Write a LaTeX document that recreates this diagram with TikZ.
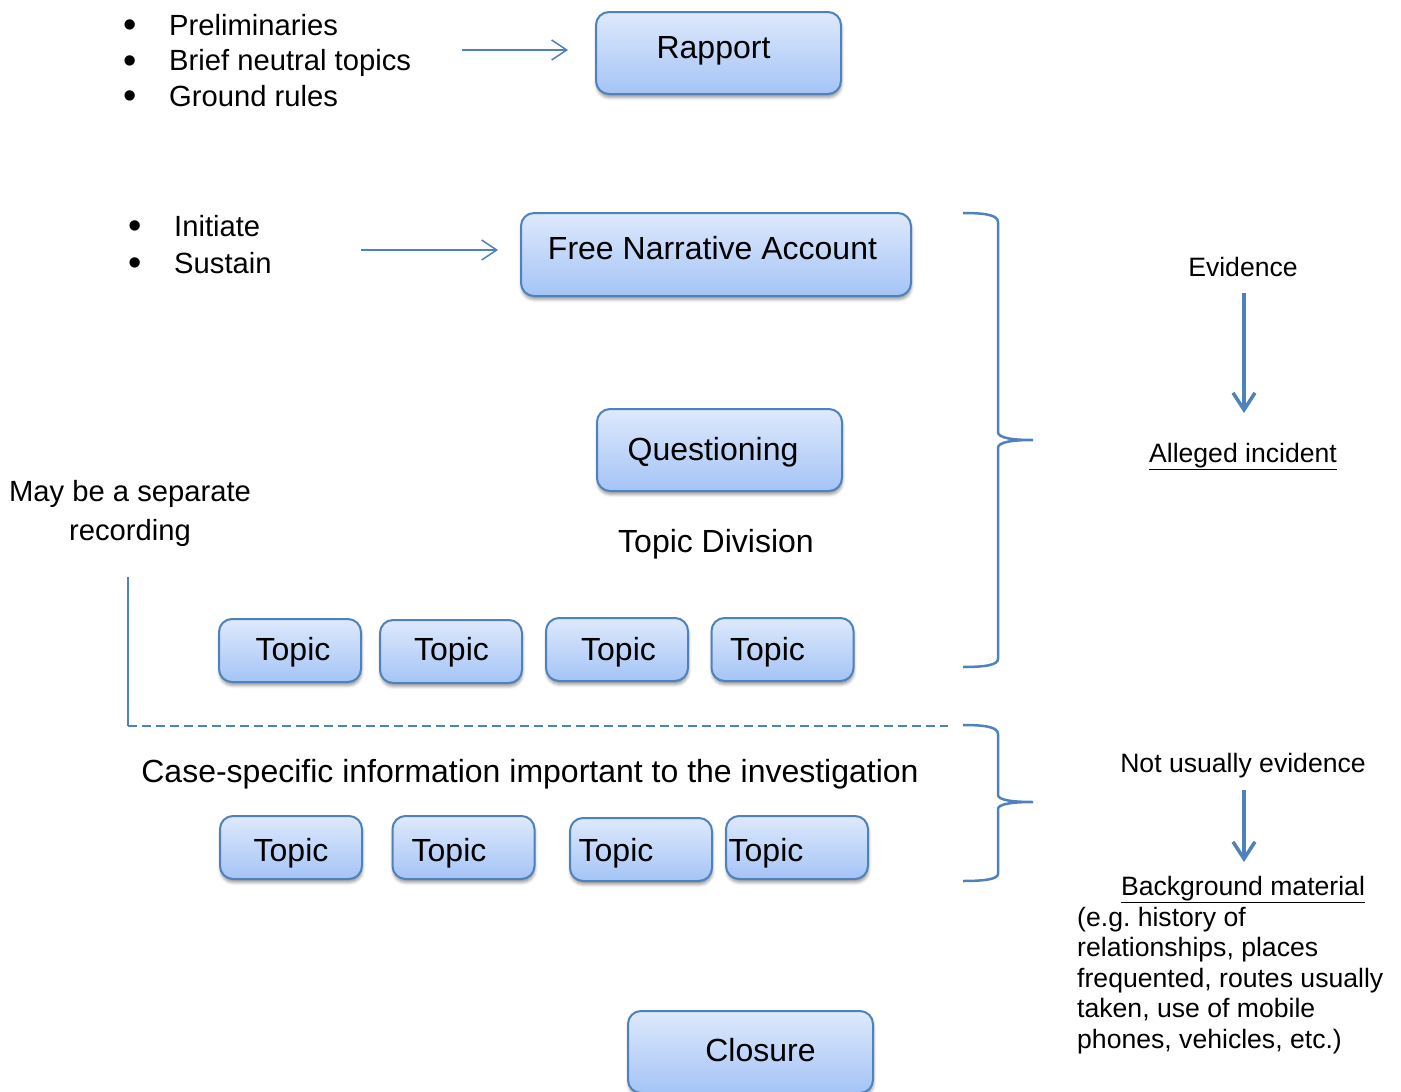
\documentclass[tikz,border=0pt]{standalone}
\usepackage{fontspec}
\setmainfont{Liberation Sans}
\usetikzlibrary{arrows.meta,shadows.blur}
\definecolor{edge}{RGB}{79,129,189}
\definecolor{boxtop}{RGB}{222,233,252}
\definecolor{boxbot}{RGB}{164,196,246}
\newcommand{\listdot}{\makebox[46pt][l]{\raisebox{-2.5pt}{\scalebox{1.3}{•}}}}
\frenchspacing
\begin{document}
\begin{tikzpicture}[x=1pt,y=-1pt,
  stagebox/.style={draw=edge, line width=2pt, rounded corners=13pt,
    top color=boxtop, bottom color=boxbot,
    blur shadow={shadow xshift=0.5pt, shadow yshift=-3.5pt,
      shadow blur radius=3pt, shadow opacity=40},
    inner sep=0pt},
  widebox/.style={stagebox, minimum width=245pt, minimum height=82pt},
  topicbox/.style={stagebox, minimum width=142pt, minimum height=63pt},
  boxtext/.style={anchor=base, inner sep=0pt, font=\fontsize{32}{38}\selectfont},
  bigtext/.style={anchor=base, inner sep=0pt, font=\fontsize{32}{38}\selectfont},
  sidetext/.style={anchor=base, inner sep=0pt, font=\fontsize{26.6}{30.5}\selectfont},
  thinarrow/.style={draw=edge, line width=1.5pt, -{Straight Barb[length=15pt,width=20pt]}},
  thickarrow/.style={draw=edge, line width=3.5pt, -{Straight Barb[length=17pt,width=22pt]}},
  bracket/.style={draw=edge, line width=2.5pt},
]
\useasboundingbox (0,0) rectangle (1401,1092);

% ---- bullet lists
\node[anchor=base west, inner sep=0pt, font=\fontsize{29.2}{35.5}\selectfont] (prelist) at (123,35)
  {\begin{tabular}[t]{@{}l@{}}
   \listdot Preliminaries\\
   \listdot Brief neutral topics\\
   \listdot Ground rules
   \end{tabular}};
\node[anchor=base west, inner sep=0pt, font=\fontsize{29.2}{37}\selectfont] (narlist) at (128,236)
  {\begin{tabular}[t]{@{}l@{}}
   \listdot Initiate\\
   \listdot Sustain
   \end{tabular}};

% ---- stage boxes
\node[widebox] (rapport) at (718.5,53) {};
\node[boxtext] (rapportlbl) at (713.5,58) {Rapport};

\node[stagebox, minimum width=390pt, minimum height=83pt] (fna) at (716,254.5) {};
\node[boxtext] (fnalbl) at (712.5,259) {Free Narrative Account};

\node[widebox] (quest) at (719.5,450) {};
\node[boxtext] (questlbl) at (713,460) {Questioning};

\node[bigtext] (division) at (716,552) {Topic Division};

% first row of topics
\node[topicbox] (ta) at (290,650.5) {};
\node[topicbox] (tb) at (451,651.5) {};
\node[topicbox] (tc) at (617,649.5) {};
\node[topicbox] (td) at (782.5,649.5) {};
\node[boxtext] (talbl) at (293,660) {Topic};
\node[boxtext] (tblbl) at (451.5,660) {Topic};
\node[boxtext] (tclbl) at (618.5,660) {Topic};
\node[boxtext] (tdlbl) at (767.5,660) {Topic};

\node[bigtext] (casespec) at (530,782) {Case-specific information important to the investigation};

% second row of topics
\node[topicbox] (ua) at (291,847.5) {};
\node[topicbox] (ub) at (463.5,847.5) {};
\node[topicbox] (uc) at (641,849.5) {};
\node[topicbox] (ud) at (797,847.5) {};
\node[boxtext] (ualbl) at (291,861) {Topic};
\node[boxtext] (ublbl) at (449,861) {Topic};
\node[boxtext] (uclbl) at (616,861) {Topic};
\node[boxtext] (udlbl) at (766,861) {Topic};

\node[widebox] (closure) at (750.5,1052) {};
\node[boxtext] (closurelbl) at (760.5,1061) {Closure};

% ---- arrows from the lists
\coordinate (a1s) at (462,50);
\coordinate (a1e) at (568,50);
\draw[thinarrow] (a1s) -- (a1e);
\coordinate (a2s) at (361,250);
\coordinate (a2e) at (498,250);
\draw[thinarrow] (a2s) -- (a2e);

% ---- separate recording marker
\node[anchor=base, inner sep=0pt, font=\fontsize{29.2}{39}\selectfont] (seprec) at (130,501)
  {\begin{tabular}[t]{@{}c@{}}May be a separate\\recording\end{tabular}};
\coordinate (sv) at (128,577);
\coordinate (sc) at (128,726);
\coordinate (sh) at (948,726);
\draw[draw=edge, line width=2pt] (sv) -- (sc);
\draw[draw=edge, line width=2pt, dash pattern=on 9pt off 5pt] (sc) -- (sh);

% ---- braces
\draw[bracket] (963,213) .. controls (985,213) and (998,215) .. (998,222)
  -- (998,432) .. controls (998,438) and (1012,440) .. (1033,440)
  .. controls (1012,440) and (998,442) .. (998,448)
  -- (998,659) .. controls (998,665) and (985,667) .. (963,667);
\draw[bracket] (963,725) .. controls (985,725) and (998,727) .. (998,734)
  -- (998,795) .. controls (998,800) and (1012,802) .. (1033,802)
  .. controls (1012,802) and (998,804) .. (998,809)
  -- (998,874) .. controls (998,879) and (985,881) .. (963,881);

% ---- right-hand notes
\node[sidetext] (evid) at (1243,276) {Evidence};
\node[sidetext] (alleged) at (1243,462) {\underline{Alleged incident}};
\coordinate (e1s) at (1244,293);
\coordinate (e1e) at (1244,413);
\draw[thickarrow] (e1s) -- (e1e);

\node[sidetext] (notev) at (1243,772) {Not usually evidence};
\node[sidetext] (backg) at (1243,895) {\underline{Background material}};
\coordinate (e2s) at (1244,790);
\coordinate (e2e) at (1244,862);
\draw[thickarrow] (e2s) -- (e2e);

\node[anchor=base west, inner sep=0pt, font=\fontsize{26.6}{30.5}\selectfont] (bgnote) at (1077,926)
  {\begin{tabular}[t]{@{}l@{}}
   (e.g. history of\\
   relationships, places\\
   frequented, routes usually\\
   taken, use of mobile\\
   phones, vehicles, etc.)
   \end{tabular}};
\end{tikzpicture}
\end{document}
